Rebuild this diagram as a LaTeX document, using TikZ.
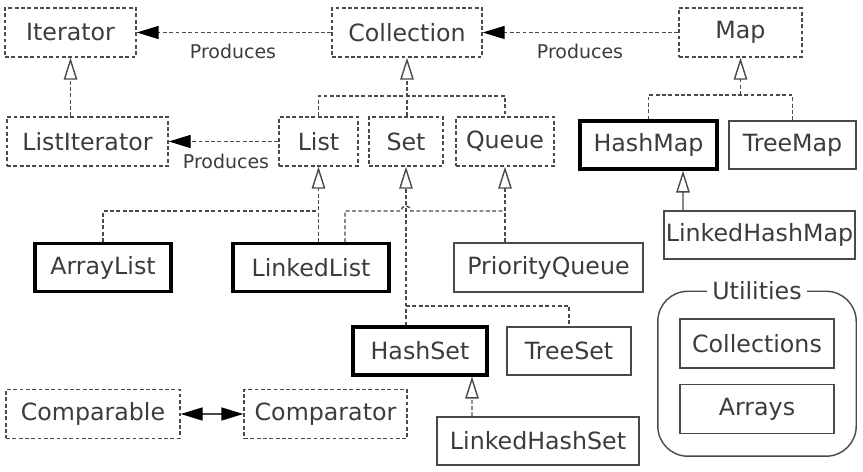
\documentclass[tikz,border=0pt]{standalone}
\usepackage{fontspec}
\setmainfont{DejaVu Sans}
\usetikzlibrary{positioning, fit, calc, arrows.meta}
\definecolor{linegray}{HTML}{4A4A4A}
\definecolor{textgray}{HTML}{3C3C3C}

\begin{document}
\begin{tikzpicture}[auto,
block/.style = {rectangle, draw=linegray, line width=0.8pt, text=textgray, inner sep=0pt,
  minimum height=0.98cm, font=\fontsize{13.5}{16}\selectfont},
iface/.style = {block, dash pattern=on 2.2pt off 1.4pt},
key/.style = {block, draw=black, line width=1.8pt, minimum height=0.96cm},
link/.style = {draw=linegray, line width=0.8pt, dash pattern=on 2.2pt off 1.4pt},
solidlink/.style = {draw=linegray, line width=0.8pt},
inherits/.style = {-{Triangle[open, length=0.44cm, width=0.27cm, line width=0.8pt]}},
produces/.style = {-{Triangle[length=0.44cm, width=0.26cm, color=black]}},
lbl/.style = {text=textgray, font=\fontsize{10.8}{13}\selectfont}]

\useasboundingbox (0,0) rectangle (17.26,9.44);

  % interfaces
  \node[iface, minimum width=2.62cm] (iter) at (1.41,8.79) {Iterator};
  \node[iface, minimum width=3.00cm] (coll) at (8.14,8.79) {Collection};
  \node[iface, minimum width=2.46cm] (map) at (14.81,8.79) {Map};
  \node[iface, minimum width=3.22cm] (list_it) at (1.75,6.61) {ListIterator};
  \node[iface, minimum width=1.58cm] (list) at (6.37,6.61) {List};
  \node[iface, minimum width=1.48cm] (set) at (8.12,6.61) {Set};
  \node[iface, minimum width=1.96cm] (queue) at (10.10,6.61) {Queue};
  \node[iface, minimum width=3.48cm] (comparable) at (1.86,1.16) {Comparable};
  \node[iface, minimum width=3.26cm] (comparator) at (6.51,1.16) {Comparator};

  % classes
  \node[key, minimum width=2.74cm] (hash_map) at (12.97,6.54) {HashMap};
  \node[block, minimum width=2.54cm, minimum height=0.96cm] (tree_map) at (15.85,6.54) {TreeMap};
  \node[block, minimum width=3.82cm, minimum height=0.96cm] (lhm) at (15.19,4.74) {LinkedHashMap};
  \node[key, minimum width=2.72cm] (array_list) at (2.06,4.09) {ArrayList};
  \node[key, minimum width=3.12cm] (linked_list) at (6.22,4.09) {LinkedList};
  \node[block, minimum width=3.78cm] (pq) at (10.97,4.09) {PriorityQueue};
  \node[key, minimum width=2.68cm] (hash_set) at (8.40,2.42) {HashSet};
  \node[block, minimum width=2.48cm, minimum height=0.96cm] (tree_set) at (11.38,2.42) {TreeSet};
  \node[block, minimum width=4.04cm, minimum height=0.96cm] (lhs) at (10.76,0.62) {LinkedHashSet};

  % utilities
  \node[block, minimum width=3.08cm] (collections) at (15.14,2.57) {Collections};
  \node[block, minimum width=3.08cm] (arrays) at (15.14,1.26) {Arrays};
  \node[draw=linegray, line width=0.8pt, rounded corners=0.6cm, inner xsep=0.43cm, inner ysep=0.49cm,
    yshift=0.05cm, fit=(collections) (arrays)] (util) {};
  \node[block, draw=none, fill=white, inner xsep=3pt, minimum height=0pt] (util_lbl) at (util.north) {Utilities};

  % produces
  \draw[link, produces] (coll) -- (iter);
  \node[lbl] (p_coll) at (4.66,8.42) {Produces};
  \draw[link, produces] (map) -- (coll);
  \node[lbl] (p_map) at (11.60,8.42) {Produces};
  \draw[link, produces] (list) -- (list_it);
  \node[lbl] (p_list) at (4.52,6.22) {Produces};
  \draw[solidlink, {Triangle[length=0.44cm, width=0.26cm, color=black]}-{Triangle[length=0.44cm, width=0.26cm, color=black]}] (comparable) -- (comparator);

  % inheritance
  \coordinate (coll_j) at (8.14,7.52);
  \coordinate (map_j) at (14.81,7.54);
  \coordinate (list_j) at (6.37,5.22);
  \coordinate (set_j) at (8.12,3.32);

  \draw[link, inherits] (list_it.north -| iter.south) -- (iter.south);

  \draw[link, inherits] (coll.south |- set.north) -- (coll.south);
  \draw[link] (list.north) |- (coll_j) -| (queue.north);

  \draw[link, inherits] (map_j) -- (map.south);
  \draw[link] (hash_map.north) |- (map_j) -| (tree_map.north);

  \draw[link, inherits] (list.south |- linked_list.north) -- (list.south);
  \draw[link] (array_list.north) |- (list_j);

  \draw[link, inherits] (queue.south |- pq.north) -- (queue.south);
  \draw[link] ($(linked_list.north)+(0.68,0)$) |- ($(set.south |- list_j)+(-0.1,0)$)
    arc[start angle=180, end angle=0, radius=0.1] -- (queue.south |- list_j);

  \draw[link, inherits] (set.south |- hash_set.north) -- (set.south);
  \draw[link] (set_j) -| (tree_set.north);

  \draw[link, inherits] ($(lhs.north)+(-1.32,0)$) -- ($(hash_set.south)+(1.04,0)$);
  \draw[solidlink, inherits] ($(lhm.north)+(-1.53,0)$) -- ($(hash_map.south)+(0.69,0)$);

\end{tikzpicture}
\end{document}
